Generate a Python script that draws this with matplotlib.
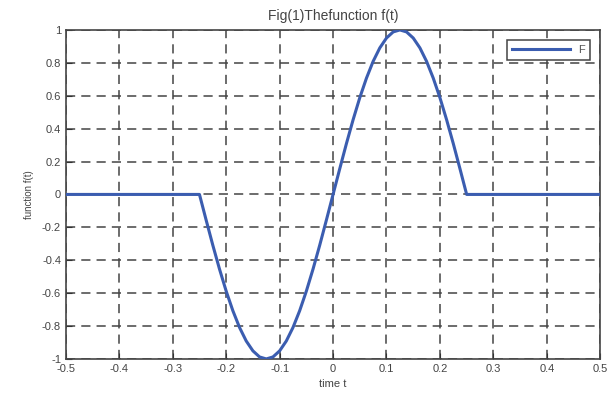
import matplotlib
matplotlib.use("Agg")
import matplotlib.pyplot as plt

plt.rcParams["font.family"] = ["Liberation Sans", "DejaVu Sans"]

# values
t = [-0.5, -0.25, -0.2375, -0.225, -0.2125, -0.2, -0.1875, -0.175, -0.1625, -0.15, -0.1375,
     -0.125, -0.1125, -0.1, -0.0875, -0.075, -0.0625, -0.05, -0.0375, -0.025, -0.0125,
     0.0, 0.0125, 0.025, 0.0375, 0.05, 0.0625, 0.075, 0.0875, 0.1, 0.1125,
     0.125, 0.1375, 0.15, 0.1625, 0.175, 0.1875, 0.2, 0.2125, 0.225, 0.2375, 0.25, 0.5]
f = [0.0, 0.0, -0.156, -0.309, -0.454, -0.588, -0.707, -0.809, -0.891, -0.951, -0.988,
     -1.0, -0.988, -0.951, -0.891, -0.809, -0.707, -0.588, -0.454, -0.309, -0.156,
     0.0, 0.156, 0.309, 0.454, 0.588, 0.707, 0.809, 0.891, 0.951, 0.988,
     1.0, 0.988, 0.951, 0.891, 0.809, 0.707, 0.588, 0.454, 0.309, 0.156, 0.0, 0.0]
xticks = [-0.5, -0.4, -0.3, -0.2, -0.1, 0, 0.1, 0.2, 0.3, 0.4, 0.5]
xticklabels = ["-0.5", "-0.4", "-0.3", "-0.2", "-0.1", "0", "0.1", "0.2", "0.3", "0.4", "0.5"]
yticks = [-1, -0.8, -0.6, -0.4, -0.2, 0, 0.2, 0.4, 0.6, 0.8, 1]
yticklabels = ["-1", "-0.8", "-0.6", "-0.4", "-0.2", "0", "0.2", "0.4", "0.6", "0.8", "1"]

fig = plt.figure(figsize=(6.1, 3.94), dpi=100)
ax = fig.add_axes([0.108, 0.089, 0.876, 0.835])
ax.plot(t, f, color="#3b5db0", lw=2.2, label="F", zorder=3)
ax.set_xlim(-0.5, 0.5)
ax.set_ylim(-1, 1)
ax.set_xticks(xticks)
ax.set_xticklabels(xticklabels)
ax.set_yticks(yticks)
ax.set_yticklabels(yticklabels)
ax.grid(True, color="#444444", linestyle=(0, (6, 4)), linewidth=1.1)
ax.tick_params(direction="in", length=4, labelsize=8, colors="#333333", labelcolor="#444444")
for s in ax.spines.values():
    s.set_color("#444444")
    s.set_linewidth(1.2)
ax.set_title("Fig(1)Thefunction f(t)", fontsize=10, color="#444444", pad=7)
ax.set_xlabel("time t", fontsize=8, color="#444444", labelpad=4)
ax.set_ylabel("function f(t)", fontsize=7, color="#444444", labelpad=6)
leg = ax.legend(loc="upper right", fontsize=8, frameon=True, fancybox=False,
                handlelength=5.2, borderaxespad=0.9, borderpad=0.45, framealpha=1)
leg.get_frame().set_edgecolor("#444444")
leg.get_frame().set_linewidth(1.1)
for txt in leg.get_texts():
    txt.set_color("#555555")
fig.savefig("out.png", dpi=100)
